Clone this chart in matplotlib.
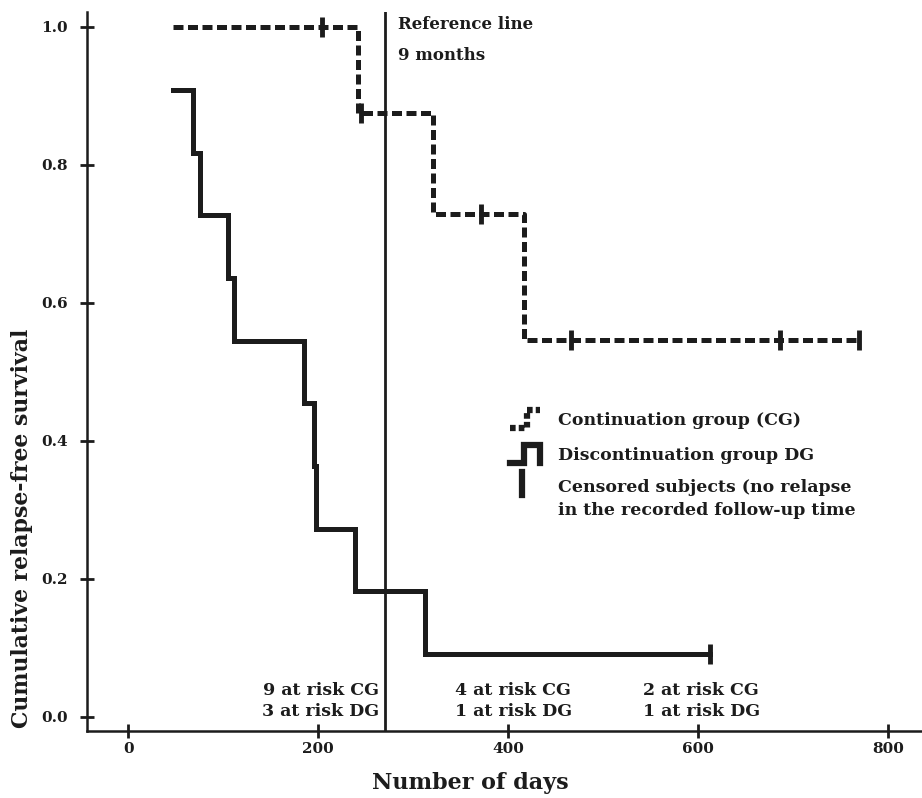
import numpy as np
import matplotlib
matplotlib.use("Agg")
import matplotlib.pyplot as plt
from matplotlib.lines import Line2D
from matplotlib.legend_handler import HandlerBase

plt.rcParams['font.family'] = ['DejaVu Serif']

# Continuation group (CG) - step curve and censored subjects
cg_days = [47, 242, 321, 417, 770]
cg_surv = [1.0, 0.875, 0.729, 0.547, 0.547]
cg_cens_days = [204, 245, 371, 466, 686, 770]
cg_cens_surv = [1.0, 0.875, 0.729, 0.547, 0.547, 0.547]

# Discontinuation group (DG)
dg_days = [47, 68, 75, 105, 111, 185, 196, 198, 239, 313, 613]
dg_surv = [0.909, 0.818, 0.727, 0.636, 0.545, 0.455, 0.364, 0.273, 0.182, 0.091, 0.091]
dg_cens_days = [613]
dg_cens_surv = [0.091]

ref_day = 270
xticks = [0, 200, 400, 600, 800]
yticks = [0.0, 0.2, 0.4, 0.6, 0.8, 1.0]

risk_labels = ["9 at risk CG\n3 at risk DG", "4 at risk CG\n1 at risk DG", "2 at risk CG\n1 at risk DG"]

col = "#1c1c1c"


class StepHandler(HandlerBase):
    def __init__(self, kind):
        super().__init__()
        self.kind = kind

    def create_artists(self, legend, orig_handle, xdescent, ydescent,
                       width, height, fontsize, trans):
        x0, y0 = -xdescent, -ydescent
        if self.kind == "cg":
            xs, ys, ls, lw = [0, 0.55, 0.55, 1], [0, 0, 1, 1], (0, (0.9, 0.5)), 4.5
        elif self.kind == "dg":
            xs, ys, ls, lw = [0, 0.45, 0.45, 1, 1], [0, 0, 1, 1, 0], "-", 4.5
        else:
            xs, ys, ls, lw = [0.4, 0.4], [0.0, 1.25], "-", 4.5
            y0 = y0 + height * 0.75
        line = Line2D([x0 + x * width for x in xs], [y0 + y * height for y in ys],
                      color=col, lw=lw, linestyle=ls, solid_joinstyle="miter",
                      transform=trans)
        return [line]


fig = plt.figure(figsize=(9.22, 7.98), dpi=100)
ax = fig.add_axes([87 / 922, 67 / 798, 835 / 922, 719 / 798])

ax.step(cg_days, cg_surv, where="post", color=col, lw=3.6, linestyle=(0, (2.0, 0.9)))
ax.plot(cg_cens_days, cg_cens_surv, linestyle="none", marker="|", ms=14, mew=3.5, color=col)
ax.step(dg_days, dg_surv, where="post", color=col, lw=3.6, solid_joinstyle="miter")
ax.plot(dg_cens_days, dg_cens_surv, linestyle="none", marker="|", ms=14, mew=3.5, color=col)
ax.axvline(ref_day, color=col, lw=2)

ax.set_xlim(-43.5, 836)
ax.set_ylim(-0.0203, 1.0217)
ax.set_xticks(xticks)
ax.set_xticklabels([str(v) for v in xticks], fontweight="bold", fontsize=11)
ax.set_yticks(yticks)
ax.set_yticklabels([f"{v:.1f}" for v in yticks], fontweight="bold", fontsize=11)
ax.tick_params(direction="inout", length=10, width=2, color=col, colors=col)
ax.tick_params(axis="y", pad=9)
ax.tick_params(axis="x", pad=3)
for s in ["top", "right"]:
    ax.spines[s].set_visible(False)
for s in ["left", "bottom"]:
    ax.spines[s].set_linewidth(1.8)
    ax.spines[s].set_color(col)

ax.text(ref_day + 14, 1.004, "Reference line", fontsize=12, fontweight="bold", va="center", color=col)
ax.text(ref_day + 14, 0.959, "9 months", fontsize=12, fontweight="bold", va="center", color=col)

ax.text(264, 0.023, risk_labels[0], ha="right", va="center", fontsize=12.5, fontweight="bold",
        color=col, linespacing=1.3)
ax.text(344, 0.023, risk_labels[1], ha="left", va="center", fontsize=12.5, fontweight="bold",
        color=col, linespacing=1.3)
ax.text(542, 0.023, risk_labels[2], ha="left", va="center", fontsize=12.5, fontweight="bold",
        color=col, linespacing=1.3)

handles = [Line2D([], []), Line2D([], [], lw=1), Line2D([], [], lw=2)]
labels = ["Continuation group (CG)", "Discontinuation group DG",
          "Censored subjects (no relapse\nin the recorded follow-up time"]
leg = ax.legend(handles, labels, loc="upper left", frameon=False,
                bbox_to_anchor=(510 / 922, 1 - 410 / 798), bbox_transform=fig.transFigure,
                borderpad=0, borderaxespad=0, handlelength=1.75, handleheight=1.25,
                handletextpad=1.0, labelspacing=0.9,
                prop={"family": "DejaVu Serif", "weight": "bold", "size": 12.5},
                handler_map={handles[0]: StepHandler("cg"), handles[1]: StepHandler("dg"),
                             handles[2]: StepHandler("cens")})
for t in leg.get_texts():
    t.set_color(col)
    t.set_linespacing(1.45)

fig.text(470 / 922, 1 - 783 / 798, "Number of days", ha="center", va="center",
         fontsize=16, fontweight="bold", color=col)
fig.text(22 / 922, 1 - 528 / 798, "Cumulative relapse-free survival", ha="center", va="center",
         rotation=90, fontsize=15.8, fontweight="bold", color=col)

fig.savefig("out.png", dpi=100, facecolor="white")
